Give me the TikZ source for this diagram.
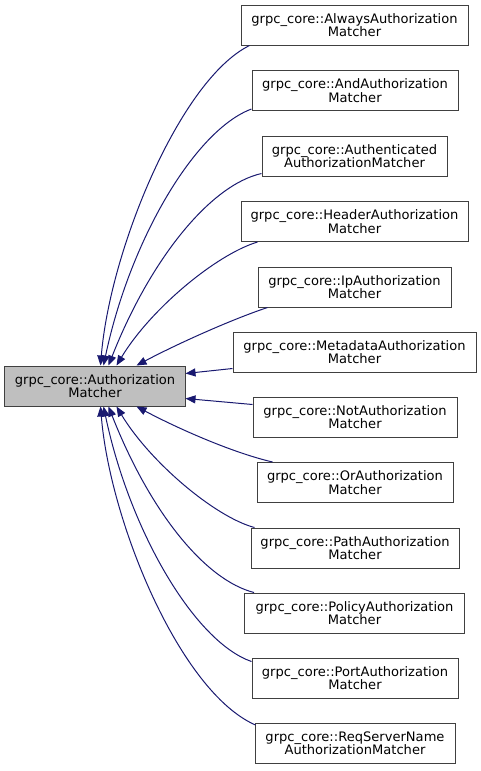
\documentclass[tikz,border=0pt]{standalone}
\usepackage{fontspec}
\setmainfont{DejaVu Sans}
\usetikzlibrary{arrows.meta,calc}
\definecolor{edgeblue}{HTML}{191970}
\definecolor{boxline}{HTML}{404040}
\definecolor{basefill}{HTML}{BFBFBF}
\begin{document}
\begin{tikzpicture}[x=0.75bp,y=-0.75bp,
  cls/.style={draw=boxline, line width=0.75bp, fill=white, align=center, inner sep=0pt,
    minimum height=30bp, font=\fontsize{9.8bp}{10bp}\selectfont},
  basecls/.style={cls, fill=basefill},
  edge/.style={draw=edgeblue, line width=0.75bp, -{Triangle[length=7.5bp,width=6bp]}, edgeblue}]
\useasboundingbox (0,0) rectangle (481,771);
\node[basecls, minimum width=135bp] (nbase) at (95,386) {grpc\_core::Authorization\\Matcher};
\node[cls, minimum width=170.25bp] (nalways) at (354.5,25) {grpc\_core::AlwaysAuthorization\\Matcher};
\node[cls, minimum width=154.5bp] (nand) at (355,90.5) {grpc\_core::AndAuthorization\\Matcher};
\node[cls, minimum width=138.75bp] (nauth) at (354.5,156) {grpc\_core::Authenticated\\AuthorizationMatcher};
\node[cls, minimum width=170.25bp] (nheader) at (354.5,221.5) {grpc\_core::HeaderAuthorization\\Matcher};
\node[cls, minimum width=144.75bp] (nip) at (354.5,287) {grpc\_core::IpAuthorization\\Matcher};
\node[cls, minimum width=182.25bp] (nmeta) at (354.5,352) {grpc\_core::MetadataAuthorization\\Matcher};
\node[cls, minimum width=153bp] (nnot) at (355,417) {grpc\_core::NotAuthorization\\Matcher};
\node[cls, minimum width=147bp] (nor) at (355,482.5) {grpc\_core::OrAuthorization\\Matcher};
\node[cls, minimum width=156bp] (npath) at (355,548) {grpc\_core::PathAuthorization\\Matcher};
\node[cls, minimum width=165bp] (npolicy) at (354.5,613) {grpc\_core::PolicyAuthorization\\Matcher};
\node[cls, minimum width=154.5bp] (nport) at (355,678) {grpc\_core::PortAuthorization\\Matcher};
\node[cls, minimum width=150bp] (nreq) at (355,743.5) {grpc\_core::ReqServerName\\AuthorizationMatcher};
% edges
\draw[edge] ($(nalways.south west)+(9,0)$) .. controls (180,80) and (110,250) .. ($(nbase.north west)+(96,0)$);
\draw[edge] ($(nand.south west)+(0,-2)$) .. controls (195,130) and (130,240) .. ($(nbase.north west)+(99,0)$);
\draw[edge] ($(nauth.south west)+(0,-3)$) .. controls (210,185) and (150,260) .. ($(nbase.north west)+(104,0)$);
\draw[edge] ($(nheader.south west)+(17,0)$) .. controls (215,255) and (150,310) .. ($(nbase.north west)+(112,0)$);
\draw[edge] ($(nip.south west)+(10,0)$) .. controls (230,320) and (175,345) .. ($(nbase.north west)+(132,0)$);
\draw[edge] ($(nmeta.south west)+(0,-4)$) -- ($(nbase.north east)+(0,8)$);
\draw[edge] ($(nnot.north west)+(0,8)$) -- ($(nbase.south east)+(0,-8)$);
\draw[edge] ($(nor.north west)+(16,0)$) .. controls (230,452) and (175,427) .. ($(nbase.south west)+(132,0)$);
\draw[edge] ($(npath.north west)+(4,0)$) .. controls (215,517) and (150,462) .. ($(nbase.south west)+(112,0)$);
\draw[edge] ($(npolicy.north west)+(10,0)$) .. controls (205,580) and (150,512) .. ($(nbase.south west)+(104,0)$);
\draw[edge] ($(nport.north west)+(0,4)$) .. controls (195,642) and (130,532) .. ($(nbase.south west)+(99,0)$);
\draw[edge] ($(nreq.north west)+(1,2)$) .. controls (180,692) and (110,522) .. ($(nbase.south west)+(96,0)$);
\end{tikzpicture}
\end{document}
